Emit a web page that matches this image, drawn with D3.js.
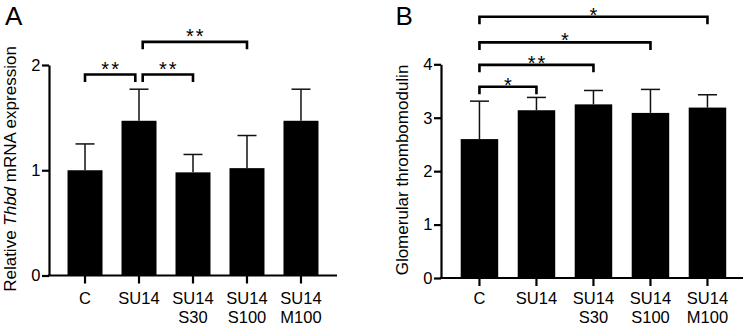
<!DOCTYPE html>
<html><head><meta charset="utf-8">
<script src="https://cdn.jsdelivr.net/npm/d3@7"></script>
<style>body{margin:0;background:#fff} svg{display:block;font-family:"Liberation Sans",Arial,Helvetica,sans-serif}</style>
</head><body>
<script>
const categories = ["C","SU14","SU14 S30","SU14 S100","SU14 M100"];
const categoryLines = [["C"],["SU14"],["SU14","S30"],["SU14","S100"],["SU14","M100"]];

const thbdMean = [1.00, 1.47, 0.98, 1.02, 1.47];
const thbdErr  = [0.25, 0.30, 0.17, 0.31, 0.30];
const thbdTicks = [0, 1, 2];
// [from, to, label, level]
const thbdSig = [[0,1,"**",1.91],[1,2,"**",1.91],[1,3,"**",2.22]];

const tmMean = [2.60, 3.14, 3.25, 3.09, 3.19];
const tmErr  = [0.71, 0.24, 0.26, 0.44, 0.24];
const tmTicks = [0, 1, 2, 3, 4];
const tmSig = [[0,1,"*",3.58],[0,2,"**",3.99],[0,3,"*",4.41],[0,4,"*",4.89]];

const svg = d3.select("body").append("svg").attr("width",749).attr("height",325);

function panel(o){
  const g = svg.append("g");
  const x = d3.scaleBand().domain(categories).range([o.x0,o.x1])
    .paddingInner(o.pi).paddingOuter(o.po).align(o.align);
  const y = d3.scaleLinear().domain([0,o.ymax]).range([o.y0,o.ytop]);
  const cx = i => x(categories[i]) + x.bandwidth()/2;

  // bars
  g.selectAll("rect.bar").data(o.mean).join("rect").attr("class","bar")
    .attr("x",(d,i)=>x(categories[i])).attr("width",x.bandwidth())
    .attr("y",d=>y(d)).attr("height",d=>o.y0-y(d)).attr("fill","#000");

  // error bars (upper only)
  const eb = g.selectAll("g.err").data(o.mean).join("g").attr("class","err");
  eb.append("line").attr("x1",(d,i)=>cx(i)).attr("x2",(d,i)=>cx(i))
    .attr("y1",d=>y(d)).attr("y2",(d,i)=>y(d+o.err[i]))
    .attr("stroke","#111").attr("stroke-width",1.5);
  eb.append("line").attr("x1",(d,i)=>cx(i)-9.5).attr("x2",(d,i)=>cx(i)+9.5)
    .attr("y1",(d,i)=>y(d+o.err[i])).attr("y2",(d,i)=>y(d+o.err[i]))
    .attr("stroke","#111").attr("stroke-width",1.5);

  // y axis
  const ya = g.append("g").attr("transform",`translate(${o.x0},0)`)
    .call(d3.axisLeft(y).tickValues(o.ticks).tickSize(7).tickSizeOuter(0).tickPadding(1.5).tickFormat(d3.format("d")));
  ya.select(".domain").attr("stroke","#000").attr("stroke-width",2.2);
  ya.selectAll(".tick line").attr("stroke","#000").attr("stroke-width",2.2);
  ya.selectAll(".tick text").attr("font-size",16.5).attr("fill","#000")
    .attr("font-family","Liberation Sans, Arial, sans-serif");

  // x axis
  const xa = g.append("g").attr("transform",`translate(0,${o.y0})`)
    .call(d3.axisBottom(x).tickSize(8).tickSizeOuter(0).tickFormat(""));
  xa.select(".domain").attr("d",`M${o.x0-1.1},0H${o.x1}`).attr("stroke","#000").attr("stroke-width",2.2);
  xa.selectAll(".tick line").attr("stroke","#000").attr("stroke-width",2.2);
  xa.selectAll(".tick text").remove();
  xa.selectAll(".tick").each(function(d,i){
    const t = d3.select(this).append("text").attr("text-anchor","middle")
      .attr("font-size",16.5).attr("fill","#000")
      .attr("font-family","Liberation Sans, Arial, sans-serif");
    categoryLines[i].forEach((s,k)=>{
      t.append("tspan").attr("x",0).attr("y",o.labelBase - o.y0 + k*19.5).text(s);
    });
  });

  // y axis title
  const tt = g.append("text")
    .attr("transform",`translate(${o.titleX},${o.titleY}) rotate(-90)`)
    .attr("text-anchor","middle").attr("font-size",17).attr("fill","#000");
  o.title.forEach(p=>{
    const s = tt.append("tspan").text(p.t);
    if(p.i) s.attr("font-style","italic");
  });

  // panel letter
  g.append("text").attr("x",o.letterX).attr("y",24.5).attr("font-size",26)
    .attr("fill","#000").text(o.letter);

  // significance brackets
  const sig = o.sig;
  sig.forEach(([a,b,lab,lev])=>{
    let xa0 = cx(a), xb0 = cx(b);
    if(sig.some(s=>s[1]===a)) xa0 += 3.7;
    if(sig.some(s=>s[0]===b)) xb0 -= 3.7;
    const yl = y(lev);
    g.append("path").attr("d",`M${xa0},${yl+7.5}V${yl}H${xb0}V${yl+7.5}`)
      .attr("fill","none").attr("stroke","#000").attr("stroke-width",2.6)
      .attr("stroke-linejoin","miter").attr("stroke-linecap","butt");
    g.append("text").attr("x",(xa0+xb0)/2 + 1).attr("y",yl + o.starDy)
      .attr("text-anchor","middle").attr("font-size",20).attr("letter-spacing",2)
      .attr("fill","#000").text(lab);
  });
}

panel({x0:49, x1:337, pi:0.352, po:0.343, align:0.5, y0:275.5, ytop:65, ymax:2,
  mean:thbdMean, err:thbdErr, ticks:thbdTicks, sig:thbdSig, starDy:1.5,
  labelBase:303.5, titleX:15.5, titleY:169,
  title:[{t:"Relative "},{t:"Thbd",i:true},{t:" mRNA expression"}],
  letter:"A", letterX:5});

panel({x0:441, x1:743, pi:0.342, po:0.32, align:0.54, y0:278, ytop:64.3, ymax:4,
  mean:tmMean, err:tmErr, ticks:tmTicks, sig:tmSig, starDy:5,
  labelBase:303.5, titleX:408.3, titleY:170,
  title:[{t:"Glomerular thrombomodulin"}],
  letter:"B", letterX:395.5});
</script>
</body></html>
